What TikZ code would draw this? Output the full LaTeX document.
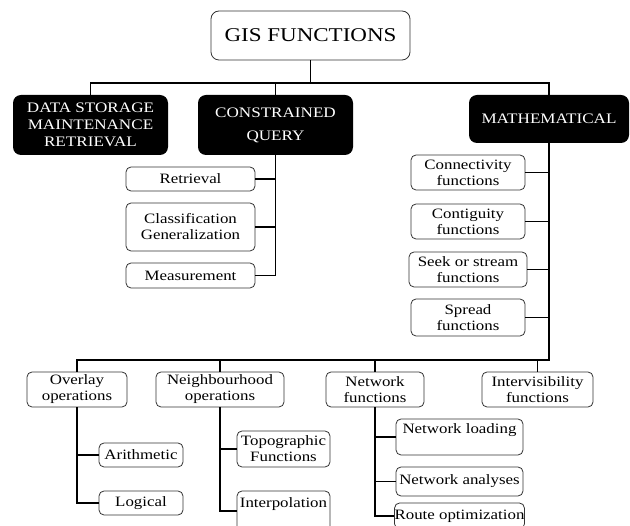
\documentclass[tikz,border=0pt]{standalone}
\usepackage{fontspec}
\setmainfont{Liberation Serif}[FakeStretch=1.18]

\tikzset{
  darkbox/.style={rounded corners=8pt, fill=black, text=white, align=center,
    inner sep=0pt, font=\fontsize{14.5}{17}\selectfont},
  litebox/.style={draw=black!80, line width=0.8pt, rounded corners=5pt, fill=white,
    align=center, inner sep=0pt, font=\fontsize{14.3}{16}\selectfont},
  link/.style={line width=1.7pt},
}

\begin{document}
\begin{tikzpicture}[x=1pt, y=-1pt]
  \useasboundingbox (0,0) rectangle (630,526);

  % Root node
  \node[litebox, rounded corners=8pt, minimum width=199, minimum height=49,
        font=\fontsize{19.5}{21}\selectfont] (gis) at (310.5,35.5) {GIS FUNCTIONS};

  % First level
  \node[darkbox, minimum width=155, minimum height=60] (store) at (90.5,125)
    {DATA STORAGE\\MAINTENANCE\\RETRIEVAL};
  \node[darkbox, minimum width=155, minimum height=60] (cq) at (275.5,125)
    {CONSTRAINED\\[6pt]QUERY};
  \node[darkbox, minimum width=160, minimum height=48] (math) at (549,119) {MATHEMATICAL};

  % Constrained query children
  \node[litebox, minimum width=129, minimum height=24] (retr) at (190.5,179) {Retrieval};
  \node[litebox, minimum width=129, minimum height=48] (class) at (190.5,227)
    {Classification\\Generalization};
  \node[litebox, minimum width=129, minimum height=25] (meas) at (190.5,275.5) {Measurement};

  % Mathematical children
  \node[litebox, minimum width=114, minimum height=35] (conn) at (468,172.5)
    {Connectivity\\functions};
  \node[litebox, minimum width=114, minimum height=35] (contig) at (468,221.5)
    {Contiguity\\functions};
  \node[litebox, minimum width=118, minimum height=35] (seek) at (468,269.5)
    {Seek or stream\\functions};
  \node[litebox, minimum width=114, minimum height=37] (spread) at (468,317.5)
    {Spread\\functions};

  % Second row
  \node[litebox, minimum width=100, minimum height=35] (overlay) at (77,389.5)
    {Overlay\\operations};
  \node[litebox, minimum width=128, minimum height=35] (neigh) at (220,389.5)
    {Neighbourhood\\operations};
  \node[litebox, minimum width=98, minimum height=35] (netf) at (375,389.5)
    {Network\\functions};
  \node[litebox, minimum width=111, minimum height=35] (intervis) at (537.5,389.5)
    {Intervisibility\\functions};

  % Leaves
  \node[litebox, minimum width=84, minimum height=24] (arith) at (141,455) {Arithmetic};
  \node[litebox, minimum width=84, minimum height=24] (logical) at (141,503) {Logical};
  \node[litebox, minimum width=93, minimum height=36] (topo) at (283.5,449)
    {Topographic\\Functions};
  \node[litebox, minimum width=93, minimum height=40] (interp) at (283.5,511)
    {Interpolation\\\mbox{}};
  \node[litebox, minimum width=127, minimum height=36] (netload) at (459.5,437)
    {Network loading\\\mbox{}};
  \node[litebox, minimum width=127, minimum height=29] (netanal) at (459.5,481.5)
    {Network analyses};
  \node[litebox, minimum width=127, minimum height=26] (route) at (459.5,516)
    {Route optimization};

  % Top bus
  \coordinate (topbus) at (310.5,83);
  \draw[link] (gis) -- (topbus);
  \draw[link] (store) |- (topbus) -| (math);
  \draw[link] (cq) -- (cq |- topbus);

  % Edges from constrained query
  \draw[link] (cq) -- (cq |- meas.east) -- (meas);
  \draw[link] (retr) -- (retr -| cq);
  \draw[link] (class) -- (class -| cq);

  % Edges from mathematical
  \coordinate (botbus) at (549,360);
  \draw[link] (math) -- (botbus) -| (overlay);
  \foreach \n in {conn, contig, seek, spread}
    \draw[link] (\n) -- (\n -| math);
  \foreach \n in {neigh, netf, intervis}
    \draw[link] (\n) -- (\n |- botbus);

  % Edges to the leaves
  \draw[link] (overlay) |- (logical);
  \draw[link] (arith) -- (arith -| overlay);
  \draw[link] (neigh) |- (interp);
  \draw[link] (topo) -- (topo -| neigh);
  \draw[link] (netf) |- (route);
  \draw[link] (netload) -- (netload -| netf);
  \draw[link] (netanal) -- (netanal -| netf);

\end{tikzpicture}
\end{document}
